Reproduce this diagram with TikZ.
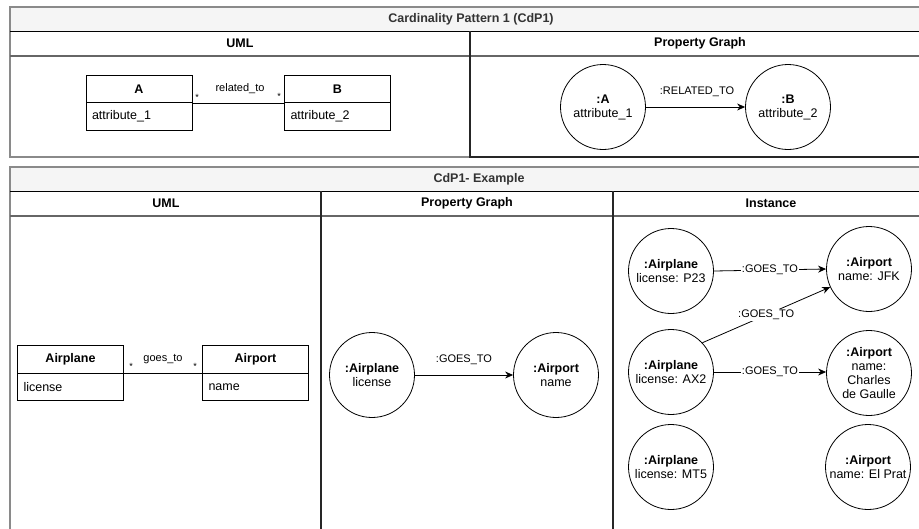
\documentclass[tikz,border=0pt]{standalone}
\usepackage{fontspec}
\setmainfont{Liberation Sans}
\usetikzlibrary{arrows.meta}

\definecolor{framegray}{HTML}{8A8A8A}
\definecolor{bandfill}{HTML}{F5F5F5}
\definecolor{titletext}{HTML}{333333}

\tikzset{
  frameline/.style={draw=framegray, line width=1.3pt},
  bandline/.style={draw=black, line width=1pt},
  hdrline/.style={draw=black!60, line width=1.3pt},
  divline/.style={draw=black!85, line width=1.2pt},
  titletxt/.style={font=\fontsize{12.5}{14}\selectfont\bfseries, text=titletext, inner sep=0},
  hdrtxt/.style={font=\fontsize{12.5}{14}\selectfont\bfseries, inner sep=0},
  clshead/.style={draw, line width=0.8pt, minimum width=106pt, minimum height=27.5pt,
    inner sep=0, font=\fontsize{12.5}{14}\selectfont\bfseries},
  clsbody/.style={draw, line width=0.8pt, minimum width=106pt, minimum height=27.5pt,
    inner sep=0, text width=94pt, align=left, font=\fontsize{12.5}{14}\selectfont},
  entity/.style={draw, circle, line width=0.8pt, minimum size=85pt, inner sep=0,
    align=center, font=\fontsize{12.5}{14}\selectfont},
  assoc/.style={draw, line width=0.8pt},
  rel/.style={draw, line width=0.8pt, -{Stealth[length=8pt,width=7pt]}},
  rellabel/.style={font=\fontsize{11}{13}\selectfont, inner sep=1pt},
  onlabel/.style={rellabel, fill=white},
  mult/.style={font=\fontsize{9}{10}\selectfont, inner sep=0},
}

\begin{document}
\begin{tikzpicture}[x=1pt, y=-1pt]
  \useasboundingbox (0,0) rectangle (919,528);
  \clip (0,0) rectangle (919,528);

  % ---------- upper table: the pattern ----------
  \fill[bandfill] (10,7) rectangle (930,31);
  \draw[frameline] (10,7) rectangle (930,157);
  \draw[bandline] (10,31) -- (930,31);
  \draw[hdrline] (10,56) -- (930,56);
  \draw[divline] (470,31) -- (470,157) -- (930,157);
  \node[titletxt] (ttl1) at (471,19) {Cardinality Pattern 1 (CdP1)};
  \node[hdrtxt] (h1uml) at (240,43.5) {UML};
  \node[hdrtxt] (h1pg) at (700,43.5) {Property Graph};

  % UML classes
  \node[clshead] (Ah) at (139,89) {A};
  \node[clsbody] (Ab) at (139,116.5) {attribute\_1};
  \node[clshead] (Bh) at (337.5,89) {B};
  \node[clsbody] (Bb) at (337.5,116.5) {attribute\_2};
  \draw[assoc] (Ah.south east) -- (Bh.south west);
  \node[mult] (Am) at (197,97) {*};
  \node[mult] (Bm) at (279,96) {*};
  \node[rellabel] (relA) at (240,89) {related\_to};

  % property graph
  \node[entity] (pA) at (603,107) {\textbf{:A}\\attribute\_1};
  \node[entity] (pB) at (788,107) {\textbf{:B}\\attribute\_2};
  \draw[rel] (pA) -- (pB);
  \node[rellabel] (relAB) at (697,92) {:RELATED\_TO};

  % ---------- lower table: the example ----------
  \fill[bandfill] (10,167) rectangle (930,191);
  \draw[frameline] (10,167) rectangle (930,545);
  \draw[bandline] (10,191) -- (930,191);
  \draw[hdrline] (10,216) -- (930,216);
  \draw[divline] (321,191) -- (321,545);
  \draw[divline] (613,191) -- (613,545);
  \node[titletxt] (ttl2) at (479,179) {CdP1- Example};
  \node[hdrtxt] (h2uml) at (166,203.5) {UML};
  \node[hdrtxt] (h2pg) at (467,203.5) {Property Graph};
  \node[hdrtxt] (h2inst) at (771,203.5) {Instance};

  % UML classes
  \node[clshead] (Ph) at (70.5,359.5) {Airplane};
  \node[clsbody] (Pb) at (70.5,387) {license};
  \node[clshead] (Th) at (255.5,359.5) {Airport};
  \node[clsbody] (Tb) at (255.5,387) {name};
  \draw[assoc] (Ph.south east) -- (Th.south west);
  \node[mult] (Pm) at (131,366) {*};
  \node[mult] (Tm) at (195,366) {*};
  \node[rellabel] (relP) at (163,359) {goes\_to};

  % property graph
  \node[entity] (gP) at (372,375) {\textbf{:Airplane}\\license};
  \node[entity] (gT) at (556,375) {\textbf{:Airport}\\name};
  \draw[rel] (gP) -- (gT);
  \node[rellabel] (relPT) at (464,360) {:GOES\_TO};

  % instances
  \node[entity] (p23) at (671,271) {\textbf{:Airplane}\\license: P23};
  \node[entity] (jfk) at (869,269) {\textbf{:Airport}\\name: JFK};
  \node[entity] (ax2) at (671,372) {\textbf{:Airplane}\\license: AX2};
  \node[entity] (cdg) at (869,373) {\textbf{:Airport}\\name:\\Charles\\de Gaulle};
  \node[entity] (mt5) at (671,467) {\textbf{:Airplane}\\license: MT5};
  \node[entity] (elp) at (868,467) {\textbf{:Airport}\\name: El Prat};

  \draw[rel] (p23.east) -- node[onlabel] (l1) {:GOES\_TO} (jfk.west);
  \draw[rel] (ax2.43) -- node[onlabel] (l2) {:GOES\_TO} (jfk.205);
  \draw[rel] (ax2.east) -- node[onlabel] (l3) {:GOES\_TO} (ax2.east -| cdg.west);
\end{tikzpicture}
\end{document}
